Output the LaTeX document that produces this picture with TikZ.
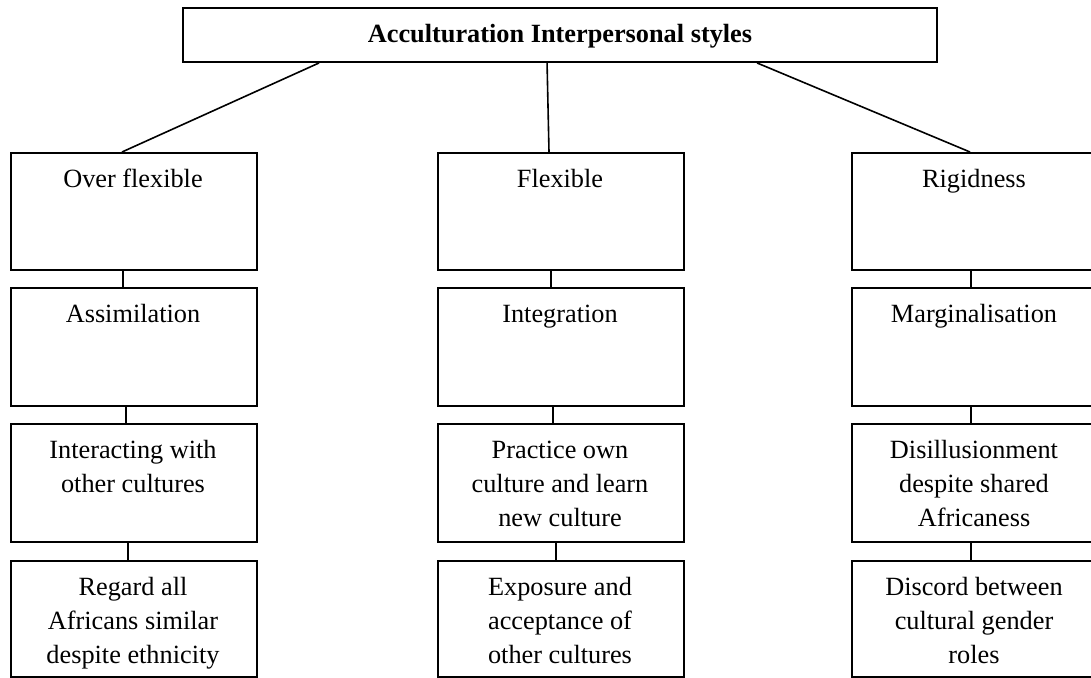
\documentclass[tikz,border=0pt]{standalone}
\usepackage{fontspec}
\setmainfont{Liberation Serif}
\newcommand\btext[1]{\parbox[t]{240pt}{\centering #1}}
\begin{document}
\begin{tikzpicture}[x=1pt,y=-1pt,
  cell/.style={draw,line width=1.9pt,minimum width=246pt,minimum height=117pt,anchor=north west,inner sep=0pt},
  lbl/.style={anchor=base,inner sep=0pt,font=\fontsize{26.3}{34}\selectfont},
  link/.style={line width=1.6pt}]
\useasboundingbox (0,0) rectangle (1091,677);
\clip (0,0) rectangle (1091,677);
% title
\node[draw,line width=1.9pt,minimum width=754pt,minimum height=54pt,inner sep=0pt,
      text height=20pt,text depth=4pt,
      font=\fontsize{26.3}{34}\selectfont\bfseries] (top) at (560,35) {Acculturation Interpersonal styles};
% boxes: columns at x = 10, 437, 851 ; rows at y = 152, 287, 423, 560
\foreach \c/\x in {1/10,2/437,3/851}{
  \node[cell] (b\c1) at (\x,152) {};
  \node[cell,minimum height=118pt] (b\c2) at (\x,287) {};
  \node[cell,minimum height=118pt] (b\c3) at (\x,423) {};
  \node[cell,minimum height=116pt] (b\c4) at (\x,560) {};
}
% texts
\node[lbl] (t11) at ([xshift=123pt,yshift=-35pt]b11.north west) {\btext{Over flexible}};
\node[lbl] (t12) at ([xshift=123pt,yshift=-35pt]b12.north west) {\btext{Assimilation}};
\node[lbl] (t13) at ([xshift=123pt,yshift=-35pt]b13.north west) {\btext{Interacting with\\other cultures}};
\node[lbl] (t14) at ([xshift=123pt,yshift=-35pt]b14.north west) {\btext{Regard all\\Africans similar\\despite ethnicity}};
\node[lbl] (t21) at ([xshift=123pt,yshift=-35pt]b21.north west) {\btext{Flexible}};
\node[lbl] (t22) at ([xshift=123pt,yshift=-35pt]b22.north west) {\btext{Integration}};
\node[lbl] (t23) at ([xshift=123pt,yshift=-35pt]b23.north west) {\btext{Practice own\\culture and learn\\new culture}};
\node[lbl] (t24) at ([xshift=123pt,yshift=-35pt]b24.north west) {\btext{Exposure and\\acceptance of\\other cultures}};
\node[lbl] (t31) at ([xshift=123pt,yshift=-35pt]b31.north west) {\btext{Rigidness}};
\node[lbl] (t32) at ([xshift=123pt,yshift=-35pt]b32.north west) {\btext{Marginalisation}};
\node[lbl] (t33) at ([xshift=123pt,yshift=-35pt]b33.north west) {\btext{Disillusionment\\despite shared\\Africaness}};
\node[lbl] (t34) at ([xshift=123pt,yshift=-35pt]b34.north west) {\btext{Discord between\\cultural gender\\roles}};
% connectors from title
\draw[link] ([xshift=137pt]top.south west) -- ([xshift=112pt]b11.north west);
\draw[link] ([xshift=365pt]top.south west) -- ([xshift=112pt]b21.north west);
\draw[link] ([xshift=575pt]top.south west) -- ([xshift=119pt]b31.north west);
% vertical connectors
\draw[link] ([xshift=113pt]b11.south west) -- ([xshift=113pt]b12.north west);
\draw[link] ([xshift=116pt]b12.south west) -- ([xshift=116pt]b13.north west);
\draw[link] ([xshift=118pt]b13.south west) -- ([xshift=118pt]b14.north west);
\draw[link] ([xshift=114pt]b21.south west) -- ([xshift=114pt]b22.north west);
\draw[link] ([xshift=116pt]b22.south west) -- ([xshift=116pt]b23.north west);
\draw[link] ([xshift=119pt]b23.south west) -- ([xshift=119pt]b24.north west);
\draw[link] ([xshift=120pt]b31.south west) -- ([xshift=120pt]b32.north west);
\draw[link] ([xshift=120pt]b32.south west) -- ([xshift=120pt]b33.north west);
\draw[link] ([xshift=120pt]b33.south west) -- ([xshift=120pt]b34.north west);
\end{tikzpicture}
\end{document}
